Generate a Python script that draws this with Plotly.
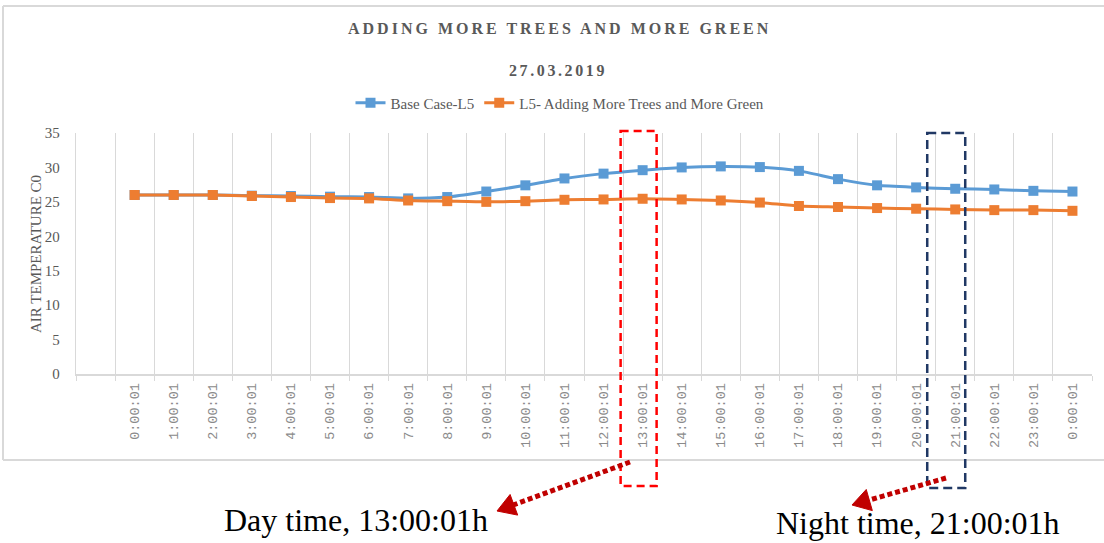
import math
import plotly.graph_objects as go

# ---------------- data ----------------
times = ["0:00:01", "1:00:01", "2:00:01", "3:00:01", "4:00:01", "5:00:01", "6:00:01",
         "7:00:01", "8:00:01", "9:00:01", "10:00:01", "11:00:01", "12:00:01", "13:00:01",
         "14:00:01", "15:00:01", "16:00:01", "17:00:01", "18:00:01", "19:00:01",
         "20:00:01", "21:00:01", "22:00:01", "23:00:01", "0:00:01"]
base_case = [26.0, 26.0, 26.0, 25.9, 25.85, 25.75, 25.7, 25.5, 25.7, 26.5, 27.4, 28.4,
             29.1, 29.6, 30.0, 30.15, 30.05, 29.5, 28.3, 27.4, 27.1, 26.9, 26.8, 26.6, 26.5]
more_green = [26.0, 26.0, 26.0, 25.85, 25.7, 25.55, 25.5, 25.2, 25.1, 25.0, 25.1, 25.3,
              25.35, 25.45, 25.35, 25.2, 24.9, 24.4, 24.25, 24.1, 24.0, 23.9, 23.8, 23.8, 23.7]
series_names = ["Base Case-L5", "L5- Adding More Trees and More Green"]
y_ticks = [0, 5, 10, 15, 20, 25, 30, 35]

# ---------------- layout geometry ----------------
W, H = 1104, 543
L, R, T, B = 76, 1092, 133, 374
n_slots = len(times) + 1          # first slot is an empty category
x_pos = list(range(1, len(times) + 1))


def px(x):
    return (x - L) / (R - L)


def py(y):
    return (B - y) / (B - T)


def slot_px(v):
    return L + (v + 0.5) / n_slots * (R - L)


SERIF = "Liberation Serif, Times New Roman, serif"
GRAY = "#595959"
GRID = "#d9d9d9"

fig = go.Figure()
fig.add_trace(go.Scatter(
    x=x_pos, y=base_case, name=series_names[0], mode="lines+markers",
    line=dict(color="#5B9BD5", width=3, shape="spline", smoothing=0.6),
    marker=dict(symbol="square", size=10, color="#5B9BD5"),
))
fig.add_trace(go.Scatter(
    x=x_pos, y=more_green, name=series_names[1], mode="lines+markers",
    line=dict(color="#ED7D31", width=3, shape="spline", smoothing=0.6),
    marker=dict(symbol="square", size=10, color="#ED7D31"),
))

boundaries = [i + 0.5 for i in range(-1, n_slots)]

fig.update_layout(
    width=W, height=H,
    margin=dict(l=L, r=W - R, t=T, b=H - B, autoexpand=False),
    paper_bgcolor="white", plot_bgcolor="white",
    showlegend=True,
    legend=dict(orientation="h", x=px(560), xanchor="center", y=py(103), yanchor="middle",
                font=dict(family=SERIF, size=15, color=GRAY), itemwidth=30,
                traceorder="normal", bgcolor="rgba(0,0,0,0)"),
    xaxis=dict(
        range=[-0.5, n_slots - 0.5], tickmode="array", tickvals=x_pos, ticktext=times,
        tickangle=-90, showgrid=False, zeroline=False, ticks="",
        tickfont=dict(family="Liberation Mono, DejaVu Sans Mono, monospace", size=13.5, color="#8a8a8a"),
        ticklabelstandoff=2,
        showline=True, linecolor=GRID, linewidth=1.5,
        minor=dict(tickmode="array", tickvals=boundaries, showgrid=True, gridcolor=GRID,
                   gridwidth=1.3, ticks="outside", ticklen=5, tickcolor=GRID),
        fixedrange=True,
    ),
    yaxis=dict(
        range=[0, 35], tickvals=y_ticks, showgrid=False, zeroline=False,
        showline=True, linecolor=GRID, linewidth=1.3,
        tickfont=dict(family=SERIF, size=15, color=GRAY), ticklabelstandoff=12,
        fixedrange=True,
    ),
)

annotations = [
    dict(text='<b><span style="letter-spacing:3px">ADDING MORE TREES AND MORE GREEN</span></b>',
         x=px(559), y=py(28), font=dict(family=SERIF, size=16, color=GRAY)),
    dict(text='<b><span style="letter-spacing:2.6px">27.03.2019</span></b>',
         x=px(558), y=py(70), font=dict(family=SERIF, size=16, color=GRAY)),
    dict(text="AIR TEMPERATURE C0", x=px(36), y=py(254), textangle=-90,
         font=dict(family=SERIF, size=15, color=GRAY)),
    dict(text="Day time, 13:00:01h", x=px(356), y=py(520),
         font=dict(family=SERIF, size=32, color="black")),
    dict(text="Night time, 21:00:01h", x=px(918), y=py(523),
         font=dict(family=SERIF, size=32, color="black")),
]
for a in annotations:
    a.update(xref="paper", yref="paper", showarrow=False, xanchor="center", yanchor="middle")
fig.update_layout(annotations=annotations)

shapes = []
# chart border
shapes.append(dict(type="line", xref="paper", yref="paper", x0=px(3), x1=px(1104), y0=py(6), y1=py(6),
                   line=dict(color=GRID, width=2)))
shapes.append(dict(type="line", xref="paper", yref="paper", x0=px(3), x1=px(1104), y0=py(460), y1=py(460),
                   line=dict(color=GRID, width=2)))
shapes.append(dict(type="line", xref="paper", yref="paper", x0=px(3), x1=px(3), y0=py(6), y1=py(460),
                   line=dict(color=GRID, width=2)))

# highlight boxes
day_idx = times.index("13:00:01") + 1
night_idx = times.index("21:00:01") + 1
shapes.append(dict(type="rect", xref="paper", yref="paper",
                   x0=px(slot_px(day_idx) - 22), x1=px(slot_px(day_idx) + 14),
                   y0=py(131), y1=py(486), line=dict(color="#FF0000", width=2.5, dash="8px,5px")))
shapes.append(dict(type="rect", xref="paper", yref="paper",
                   x0=px(slot_px(night_idx) - 28), x1=px(slot_px(night_idx) + 10),
                   y0=py(133), y1=py(488), line=dict(color="#203864", width=2.5, dash="9px,5px")))


def arrow(x0, y0, tipx, tipy, color="#C00000", head_len=18, head_w=11):
    dx, dy = tipx - x0, tipy - y0
    d = math.hypot(dx, dy)
    ux, uy = dx / d, dy / d
    bx, by = tipx - ux * head_len, tipy - uy * head_len
    nx, ny = -uy, ux
    out = [dict(type="line", xref="paper", yref="paper",
                x0=px(x0), y0=py(y0), x1=px(bx + ux * 2), y1=py(by + uy * 2),
                line=dict(color=color, width=5, dash="5px,3px"))]
    p1 = (bx + nx * head_w, by + ny * head_w)
    p2 = (bx - nx * head_w, by - ny * head_w)
    path = "M {} {} L {} {} L {} {} Z".format(px(tipx), py(tipy), px(p1[0]), py(p1[1]),
                                              px(p2[0]), py(p2[1]))
    out.append(dict(type="path", xref="paper", yref="paper", path=path,
                    fillcolor=color, line=dict(color=color, width=1)))
    return out


shapes += arrow(630, 462, 497, 511)
shapes += arrow(946, 478, 852, 505)

fig.update_layout(shapes=shapes)

fig.write_html("out.html", config={"displayModeBar": False},
               post_script="document.body.style.margin='0';document.body.style.overflow='hidden';")
